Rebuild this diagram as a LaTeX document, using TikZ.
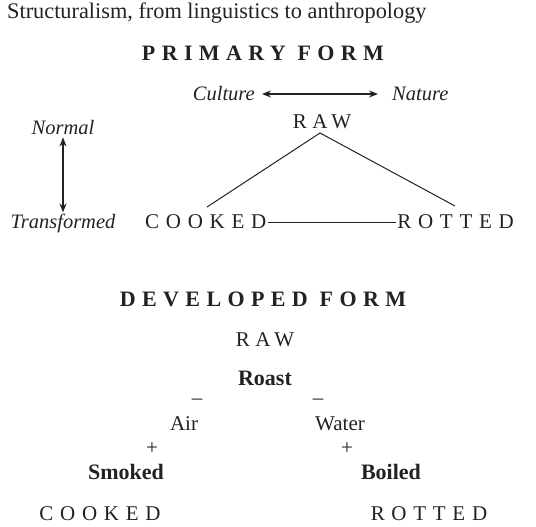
\documentclass[tikz,border=0pt]{standalone}
\usepackage{fontspec}
\setmainfont{Liberation Serif}
\newfontfamily\spacedfont[LetterSpace=32]{Liberation Serif}
\newfontfamily\rawfont[LetterSpace=26]{Liberation Serif}
\newfontfamily\spacedbold[LetterSpace=29]{Liberation Serif Bold}
\usetikzlibrary{arrows.meta}
\definecolor{ink}{HTML}{222222}
\tikzset{
  lbl/.style={inner sep=0pt, text=ink},
  caps/.style={lbl, font=\spacedfont\fontsize{21}{24}\selectfont},
  rawcaps/.style={lbl, font=\rawfont\fontsize{21}{24}\selectfont},
  head/.style={lbl, font=\spacedbold\fontsize{22}{26}\selectfont},
  ital/.style={lbl, font=\itshape\fontsize{20.5}{24}\selectfont},
  bld/.style={lbl, font=\bfseries\fontsize{22}{26}\selectfont},
  plain/.style={lbl, font=\fontsize{21}{24}\selectfont},
  conn/.style={draw=ink, line width=1pt},
  darr/.style={draw=ink, line width=1.3pt, {Stealth[length=9pt,width=7pt]}-{Stealth[length=9pt,width=7pt]}},
}
\begin{document}
\begin{tikzpicture}[x=1pt,y=1pt]
\useasboundingbox (0,0) rectangle (536,-527);
\node[plain, anchor=west, font=\fontsize{22.3}{26}\selectfont] (title) at (7,-13) {Structuralism, from linguistics to anthropology};
\node[head] (pf) at (263,-53) {PRIMARY FORM};
\node[ital, anchor=east] (culture) at (255,-94) {Culture};
\node[ital, anchor=west] (nature) at (392,-94) {Nature};
\draw[darr] ([xshift=7pt]culture.east) -- ([xshift=-14pt]nature.west);
\node[rawcaps] (raw1) at (322,-122) {RAW};
\node[ital] (normal) at (63,-127) {Normal};
\node[ital] (transf) at (63,-223) {Transformed};
\draw[darr] ([yshift=-3pt]normal.south) -- ([yshift=1pt]transf.north);
\node[caps, anchor=west] (cooked1) at (145,-222) {COOKED};
\node[caps, anchor=east] (rotted1) at (514,-222) {ROTTED};
\coordinate (apex) at (320,-133);
\coordinate (lend) at (207,-207);
\coordinate (rend) at (455,-206);
\draw[conn] (lend) -- (apex) -- (rend);
\draw[conn] ([xshift=2pt]cooked1.east) -- ([xshift=-1pt]rotted1.west);
\node[head] (df) at (263,-299) {DEVELOPED FORM};
\node[rawcaps] (raw2) at (265,-340) {RAW};
\node[bld] (roast) at (265,-378) {Roast};
\node[plain] (m1) at (197,-402) {–};
\node[plain] (m2) at (318,-402) {–};
\node[plain] (air) at (184,-424) {Air};
\node[plain] (water) at (340,-424) {Water};
\node[plain] (p1) at (152,-449) {+};
\node[plain] (p2) at (347,-449) {+};
\node[bld] (smoked) at (126,-472) {Smoked};
\node[bld] (boiled) at (391,-472) {Boiled};
\node[caps] (cooked2) at (100,-514) {COOKED};
\node[caps] (rotted2) at (429,-514) {ROTTED};
\end{tikzpicture}
\end{document}
